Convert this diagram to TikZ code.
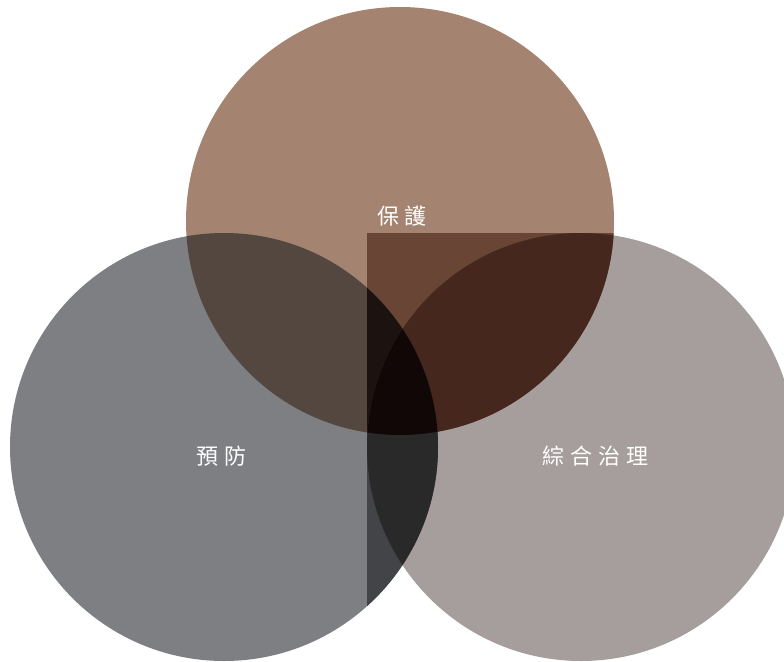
\documentclass[tikz,border=0pt]{standalone}
\usepackage{fontspec}
\newfontfamily\cjk{Noto Sans CJK TC}
\definecolor{cT}{HTML}{A48470}
\definecolor{cL}{HTML}{7E7F83}
\definecolor{cR}{HTML}{A69E9C}
\definecolor{cTL}{HTML}{544740}
\definecolor{cTr}{HTML}{694535}
\definecolor{cLr}{HTML}{434448}
\definecolor{cTLr}{HTML}{1C120F}
\definecolor{cTR}{HTML}{45271E}
\definecolor{cLR}{HTML}{292929}
\definecolor{cTLR}{HTML}{100706}
\tikzset{lbl/.style={text=white,font=\cjk\fontsize{22}{24}\selectfont,inner sep=0pt}}
\newcommand{\gp}{\hspace{6pt}}
\begin{document}
\begin{tikzpicture}[x=1pt,y=-1pt]
\useasboundingbox (0,0) rectangle (784,661);
\def\CT{(400,221) circle (214pt)}
\def\CL{(224,447) circle (214pt)}
\def\CR{(581,447) circle (214pt)}
\fill[cT] \CT;
\fill[cL] \CL;
\fill[cR] \CR;
\begin{scope}
  \clip \CT;
  \fill[cTL] \CL;
\end{scope}
\begin{scope}
  \clip (367,233) rectangle (784,661);
  \fill[cTr] \CT;
  \fill[cLr] \CL;
  \begin{scope}
    \clip \CT;
    \fill[cTLr] \CL;
  \end{scope}
\end{scope}
\begin{scope}
  \clip \CT;
  \fill[cTR] \CR;
\end{scope}
\begin{scope}
  \clip \CL;
  \fill[cLR] \CR;
\end{scope}
\begin{scope}
  \clip \CT;
  \clip \CL;
  \fill[cTLR] \CR;
\end{scope}
\node[lbl] (baohu) at (402,216) {保\gp 護};
\node[lbl] (yufang) at (221.5,456) {預\gp 防};
\node[lbl] (zonghe) at (595.5,456) {綜\gp 合\gp 治\gp 理};
\end{tikzpicture}
\end{document}
